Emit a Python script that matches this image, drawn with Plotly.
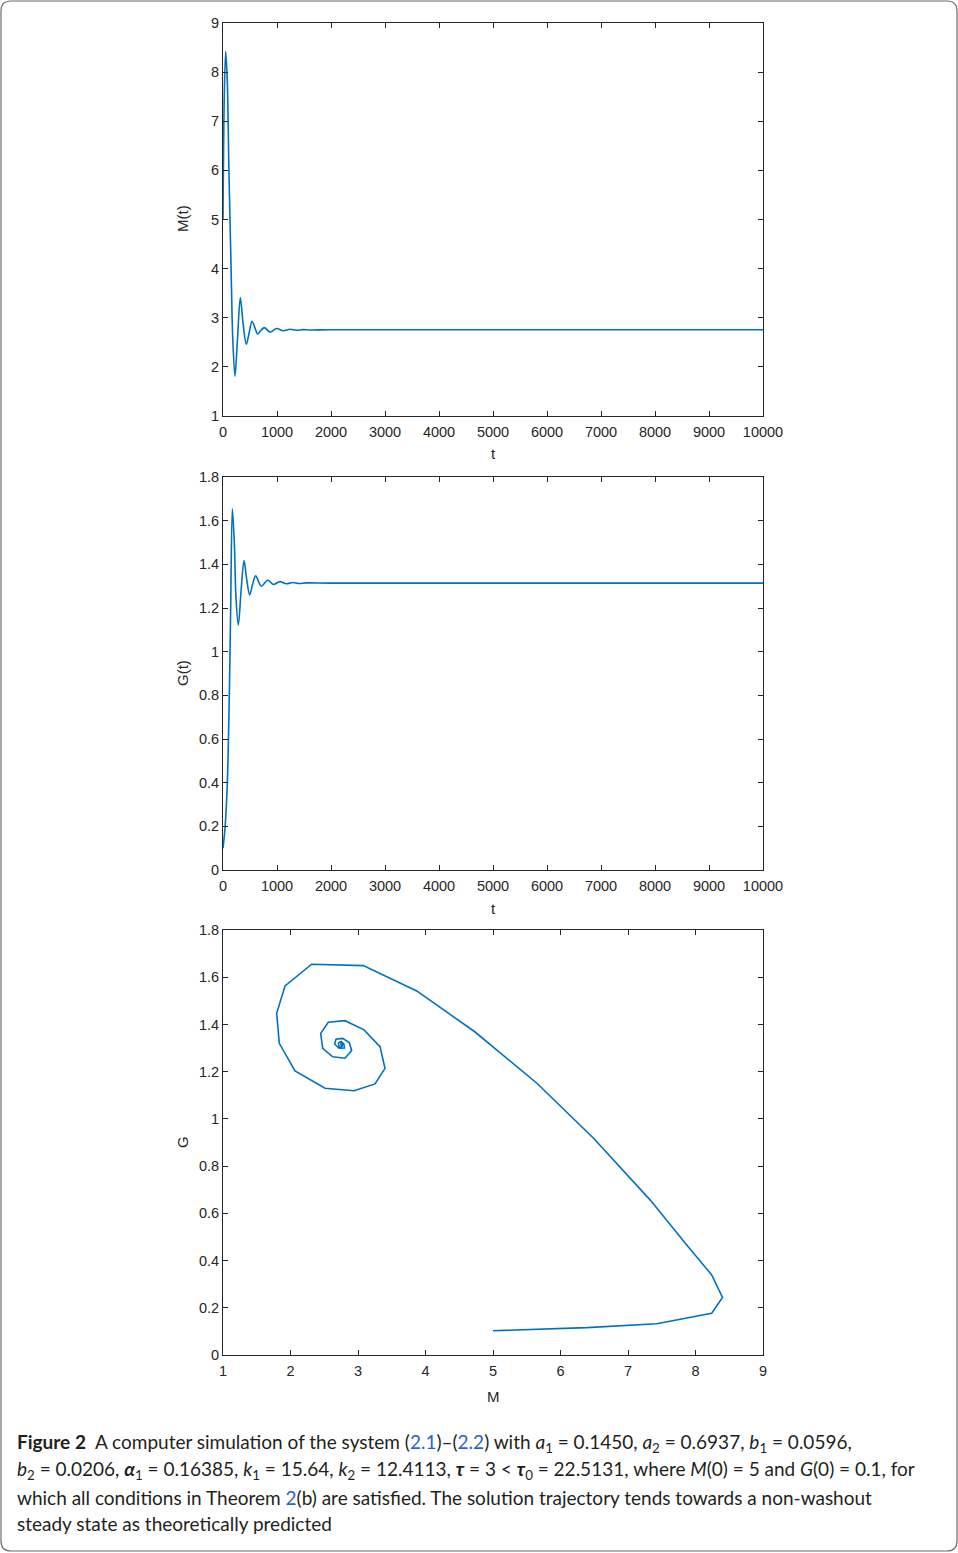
import plotly.graph_objects as go

# ---------------- data ----------------
t_M = [0, 25, 50, 80, 110, 150, 180, 222, 270, 321, 375, 432, 485, 537, 590, 642,
       700, 765, 870, 994, 1117, 1240, 1360, 1480, 1600, 2000, 10000]
M_vals = [5.0, 7.6, 8.42, 7.8, 6.0, 4.0, 2.6, 1.81, 2.6, 3.41, 2.85, 2.46, 2.70, 2.93, 2.80, 2.67,
          2.74, 2.80, 2.71, 2.78, 2.735, 2.765, 2.745, 2.758, 2.752, 2.755, 2.755]

t_G = [0, 40, 80, 117, 142, 173, 210, 240, 284, 335, 389, 440, 494, 550, 605, 710,
       827, 932, 1056, 1170, 1290, 1400, 1550, 2000, 10000]
G_vals = [0.10, 0.20, 0.40, 0.80, 1.20, 1.654, 1.50, 1.25, 1.122, 1.28, 1.417, 1.33, 1.260, 1.31, 1.347, 1.300,
          1.327, 1.308, 1.321, 1.311, 1.317, 1.312, 1.315, 1.314, 1.314]

phase_M = [5.00, 6.39, 7.425, 8.24, 8.40, 8.24, 7.87, 7.33, 6.49, 5.65, 4.73, 4.07, 3.87,
           3.079, 2.314, 1.919, 1.795, 1.834, 2.067, 2.511, 2.941, 3.252, 3.40, 3.326,
           3.089, 2.807, 2.56, 2.447, 2.477, 2.625, 2.807, 2.906, 2.87, 2.773, 2.674,
           2.654, 2.72, 2.80, 2.79, 2.75, 2.71, 2.72, 2.76, 2.77, 2.75, 2.745, 2.755]
phase_G = [0.103, 0.116, 0.1326, 0.177, 0.244, 0.339, 0.466, 0.656, 0.918, 1.151, 1.369, 1.504, 1.542,
           1.649, 1.655, 1.563, 1.447, 1.320, 1.203, 1.130, 1.119, 1.148, 1.214, 1.306,
           1.377, 1.416, 1.409, 1.362, 1.299, 1.263, 1.257, 1.289, 1.323, 1.341, 1.337,
           1.317, 1.299, 1.300, 1.318, 1.328, 1.322, 1.305, 1.303, 1.316, 1.320, 1.311, 1.313]

t_ticks = [0, 1000, 2000, 3000, 4000, 5000, 6000, 7000, 8000, 9000, 10000]
t_tick_text = ["0", "1000", "2000", "3000", "4000", "5000", "6000", "7000", "8000", "9000", "10000"]
M_ticks = [1, 2, 3, 4, 5, 6, 7, 8, 9]
G_ticks = [0, 0.2, 0.4, 0.6, 0.8, 1.0, 1.2, 1.4, 1.6, 1.8]
G_tick_text = ["0", "0.2", "0.4", "0.6", "0.8", "1", "1.2", "1.4", "1.6", "1.8"]
phaseM_ticks = [1, 2, 3, 4, 5, 6, 7, 8, 9]

caption_lines = [
    "<b>Figure 2</b>  A computer simulation of the system (<span style='color:#2a5fd0'>2.1</span>)–(<span style='color:#2a5fd0'>2.2</span>) with <i>a</i><sub>1</sub> = 0.1450, <i>a</i><sub>2</sub> = 0.6937, <i>b</i><sub>1</sub> = 0.0596,",
    "<i>b</i><sub>2</sub> = 0.0206, <b><i>α</i></b><sub>1</sub> = 0.16385, <i>k</i><sub>1</sub> = 15.64, <i>k</i><sub>2</sub> = 12.4113, <b><i>τ</i></b> = 3 &lt; <b><i>τ</i></b><sub>0</sub> = 22.5131, where <i>M</i>(0) = 5 and <i>G</i>(0) = 0.1, for",
    "which all conditions in Theorem <span style='color:#2a5fd0'>2</span>(b) are satisfied. The solution trajectory tends towards a non-washout",
    "steady state as theoretically predicted",
]

# ---------------- layout geometry ----------------
W, H = 958, 1553
L, R = 223, 763
TOP, BOT = 23, 1355
PH = BOT - TOP
PW = R - L


def py(p):  # pixel y -> paper y
    return (BOT - p) / PH


def px(p):  # pixel x -> paper x
    return (p - L) / PW


line_color = "#0072BD"
axis_color = "#262626"
tick_font = dict(family="Liberation Sans, Arial, sans-serif", size=14.5, color=axis_color)

fig = go.Figure()
fig.add_trace(go.Scatter(x=t_M, y=M_vals, mode="lines", line=dict(color=line_color, width=1.6, shape="spline", smoothing=0.9),
                         xaxis="x", yaxis="y", showlegend=False))
fig.add_trace(go.Scatter(x=t_G, y=G_vals, mode="lines", line=dict(color=line_color, width=1.6, shape="spline", smoothing=0.9),
                         xaxis="x2", yaxis="y2", showlegend=False))
fig.add_trace(go.Scatter(x=phase_M, y=phase_G, mode="lines", line=dict(color=line_color, width=1.6),
                         xaxis="x3", yaxis="y3", showlegend=False))

common = dict(showline=True, linecolor=axis_color, linewidth=0.8, mirror="ticks", ticks="inside",
              ticklen=5, tickcolor=axis_color, tickwidth=0.8, showgrid=False, zeroline=False,
              tickfont=tick_font)

fig.update_layout(
    width=W, height=H,
    margin=dict(l=L, r=W - R, t=TOP, b=H - BOT),
    paper_bgcolor="white", plot_bgcolor="white",
    xaxis=dict(domain=[0, 1], anchor="y", range=[0, 10000], tickvals=t_ticks, ticktext=t_tick_text, ticklabelstandoff=3, **common),
    yaxis=dict(domain=[py(416), py(23)], anchor="x", range=[1, 9], tickvals=M_ticks, **common),
    xaxis2=dict(domain=[0, 1], anchor="y2", range=[0, 10000], tickvals=t_ticks, ticktext=t_tick_text, ticklabelstandoff=3, **common),
    yaxis2=dict(domain=[py(870), py(477)], anchor="x2", range=[0, 1.8], tickvals=G_ticks, ticktext=G_tick_text, **common),
    xaxis3=dict(domain=[0, 1], anchor="y3", range=[1, 9], tickvals=phaseM_ticks, ticklabelstandoff=3, **common),
    yaxis3=dict(domain=[py(1355), py(930)], anchor="x3", range=[0, 1.8], tickvals=G_ticks, ticktext=G_tick_text, **common),
)

title_font = dict(family="Liberation Sans, Arial, sans-serif", size=15, color=axis_color)
ann = []
# axis titles
ann.append(dict(text="t", x=0.5, y=py(454), xref="paper", yref="paper", showarrow=False, font=title_font, xanchor="center", yanchor="middle"))
ann.append(dict(text="t", x=0.5, y=py(908), xref="paper", yref="paper", showarrow=False, font=title_font, xanchor="center", yanchor="middle"))
ann.append(dict(text="M", x=0.5, y=py(1396), xref="paper", yref="paper", showarrow=False, font=title_font, xanchor="center", yanchor="middle"))
ann.append(dict(text="M(t)", x=px(182), y=py(219), xref="paper", yref="paper", showarrow=False, font=title_font, textangle=-90, xanchor="center", yanchor="middle"))
ann.append(dict(text="G(t)", x=px(182), y=py(673), xref="paper", yref="paper", showarrow=False, font=title_font, textangle=-90, xanchor="center", yanchor="middle"))
ann.append(dict(text="G", x=px(182), y=py(1142), xref="paper", yref="paper", showarrow=False, font=title_font, textangle=-90, xanchor="center", yanchor="middle"))

cap_font = dict(family="Lato, sans-serif", size=19.0, color="#231f20")
for i, (txt, yc) in enumerate(zip(caption_lines, [1443, 1470, 1497, 1523])):
    ann.append(dict(text=txt, x=px(15), y=py(yc), xref="paper", yref="paper", showarrow=False,
                    font=cap_font, xanchor="left", yanchor="middle", align="left"))
fig.update_layout(annotations=ann)

# rounded card border
x0, x1 = px(1), px(957)
y0, y1 = py(1), py(1551)
rx, ry = 10 / PW, 10 / PH
path = (f"M {x0+rx} {y0} L {x1-rx} {y0} Q {x1} {y0} {x1} {y0-ry} "
        f"L {x1} {y1+ry} Q {x1} {y1} {x1-rx} {y1} L {x0+rx} {y1} Q {x0} {y1} {x0} {y1+ry} "
        f"L {x0} {y0-ry} Q {x0} {y0} {x0+rx} {y0} Z")
fig.add_shape(type="path", path=path, xref="paper", yref="paper", line=dict(color="#6d6d6d", width=1.2))

fig.write_html("out.html", config={"displayModeBar": False},
               post_script="document.body.style.margin='0';document.body.style.overflow='hidden';")
